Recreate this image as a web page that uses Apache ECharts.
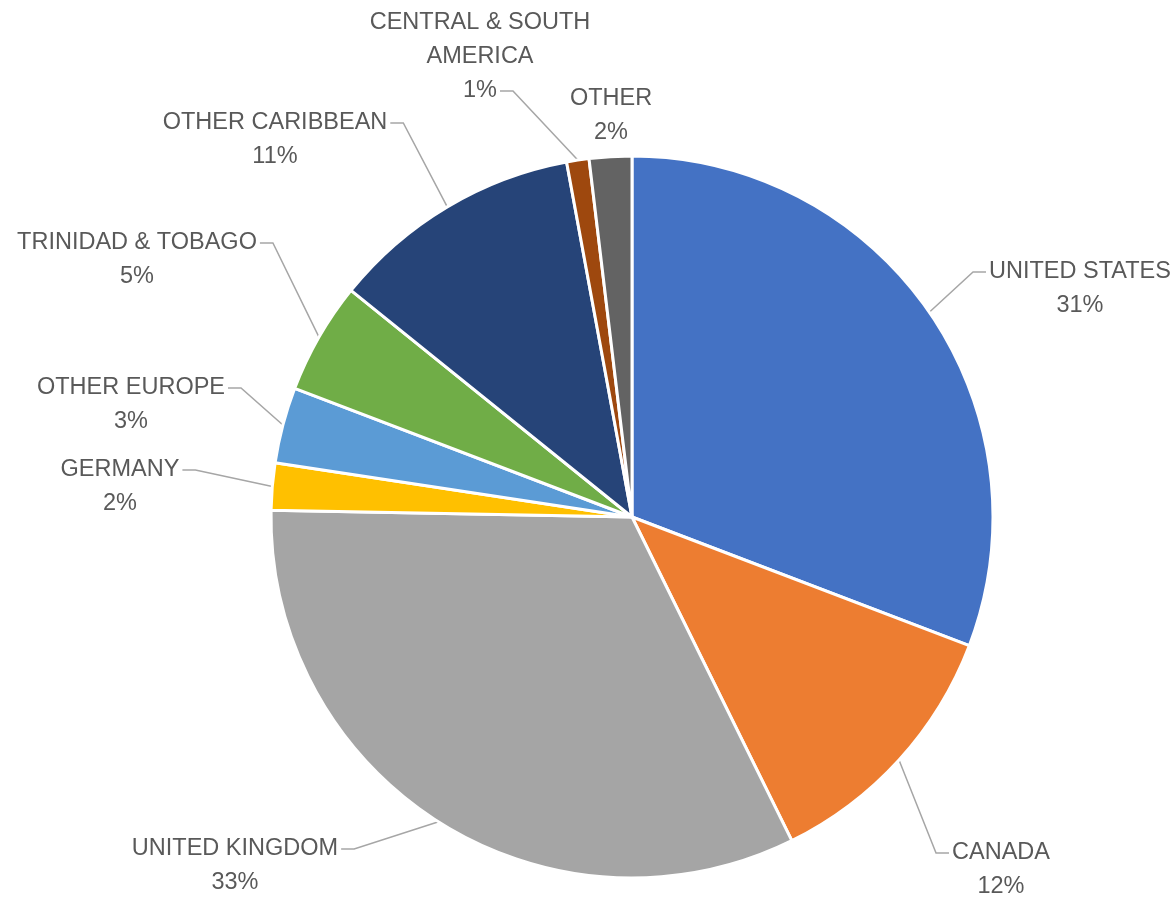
<!DOCTYPE html>
<html><head><meta charset="utf-8">
<script src="https://cdn.jsdelivr.net/npm/echarts@6/dist/echarts.min.js"></script>
<style>html,body{margin:0;padding:0;background:#fff}#c{width:1176px;height:902px}</style>
</head><body><div id="c"></div>
<script>
const categories = ['UNITED STATES','CANADA','UNITED KINGDOM','GERMANY','OTHER EUROPE','TRINIDAD & TOBAGO','OTHER CARIBBEAN','CENTRAL & SOUTH\nAMERICA','OTHER'];
const values = [30.8, 11.9, 32.6, 2.1, 3.4, 5.0, 11.3, 1.0, 1.9];
const colors = ['#4472C4','#ED7D31','#A5A5A5','#FFC000','#5B9BD5','#70AD47','#264478','#9E480E','#636363'];

// label layout helpers (placement only)
const labelCenters = [[1080,289],[1001,870],[235,866],[120,487],[131,405],[137,260],[275,140],[480,57],[611,116]];
const leaderSide = ['left','left','right','right','right','right','right','right','none'];
const leaderLine = [0,0,0,0,0,0,0,2,0];

const FONT_SIZE = 23.5, LINE_H = 34, FONT_FAMILY = 'Liberation Sans';
const ctx = document.createElement('canvas').getContext('2d');
ctx.font = FONT_SIZE + 'px "' + FONT_FAMILY + '"';

const chart = echarts.init(document.getElementById('c'), null, {renderer: 'canvas'});
const labelText = p => p.name + '\n' + Math.round(p.percent) + '%';

chart.setOption({
  backgroundColor: '#ffffff',
  animation: false,
  series: [{
    type: 'pie',
    center: [632, 517],
    radius: 361,
    startAngle: 90,
    clockwise: true,
    avoidLabelOverlap: false,
    data: categories.map((n, i) => ({name: n, value: values[i], itemStyle: {color: colors[i]}})),
    itemStyle: {borderColor: '#ffffff', borderWidth: 3},
    label: {
      show: true,
      position: 'outside',
      formatter: labelText,
      color: '#595959',
      fontSize: FONT_SIZE,
      fontFamily: FONT_FAMILY,
      lineHeight: LINE_H,
      align: 'center'
    },
    labelLine: {show: true, length: 20, length2: 14, lineStyle: {color: '#a6a6a6', width: 1.5}},
    labelLayout: function (p) {
      const i = p.dataIndex;
      const cx = labelCenters[i][0], cy = labelCenters[i][1];
      const h = p.labelRect.height;
      const top = cy - h / 2;
      const lines = labelText({name: categories[i], percent: values[i] / values.reduce((a, b) => a + b, 0) * 100}).split('\n');
      const li = leaderLine[i];
      const lw = ctx.measureText(lines[li]).width;
      const ly = top + LINE_H * li + LINE_H / 2;
      const res = {x: cx, y: cy, align: 'center', verticalAlign: 'middle'};
      const start = p.labelLinePoints ? p.labelLinePoints[0] : [cx, cy];
      const side = leaderSide[i];
      if (side === 'none') {
        res.labelLinePoints = [start, start, start];
      } else {
        const ax = side === 'left' ? cx - lw / 2 - 3 : cx + lw / 2 + 3;
        const bx = side === 'left' ? ax - 13 : ax + 13;
        res.labelLinePoints = [start, [bx, ly], [ax, ly]];
      }
      return res;
    }
  }]
});
</script>
</body></html>
